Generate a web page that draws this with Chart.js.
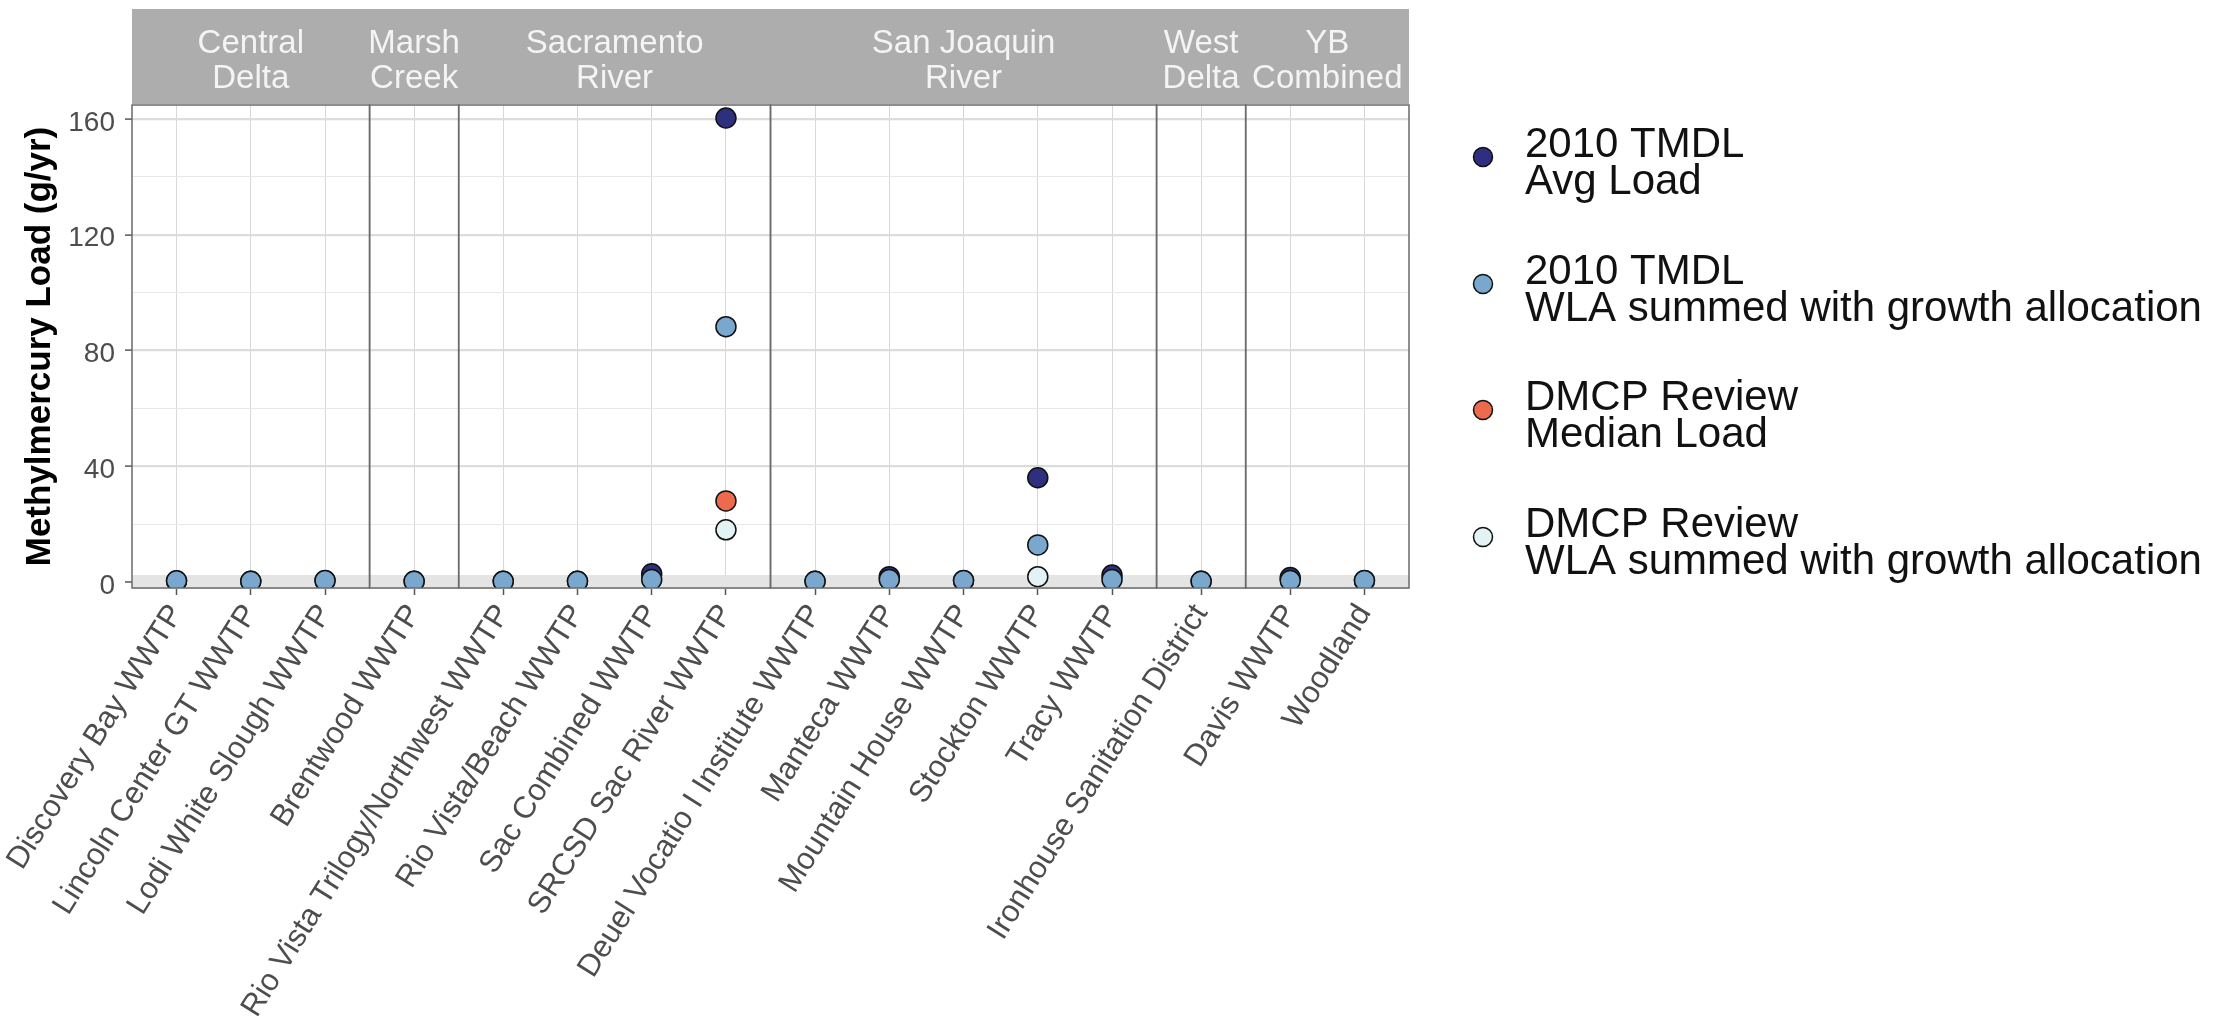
<!DOCTYPE html>
<html lang="en">
<head>
<meta charset="UTF-8" />
<title>Methylmercury Load by Facility</title>
<script src="https://cdn.jsdelivr.net/npm/chart.js"></script>
<style>
  body { margin: 0; background: #ffffff; }
  .wrap { width: 2216px; height: 1022px; position: relative; }
</style>
</head>
<body>
<div class="wrap"><canvas id="loadChart"></canvas></div>
<script>
// facilities, in panel order
const facilities = [
  "Discovery Bay WWTP", "Lincoln Center GT WWTP", "Lodi White Slough WWTP",
  "Brentwood WWTP",
  "Rio Vista Trilogy/Northwest WWTP", "Rio Vista/Beach WWTP", "Sac Combined WWTP", "SRCSD Sac River WWTP",
  "Deuel Vocatio I Institute WWTP", "Manteca WWTP", "Mountain House WWTP", "Stockton WWTP", "Tracy WWTP",
  "Ironhouse Sanitation District",
  "Davis WWTP", "Woodland"
];
const groups = ["Central\nDelta", "Marsh\nCreek", "Sacramento\nRiver", "San Joaquin\nRiver", "West\nDelta", "YB\nCombined"];
const groupSizes = [3, 1, 4, 5, 1, 2];

const yTicks = [0, 20, 40, 60, 80, 100, 120, 140, 160];
const yLabelled = [0, 40, 80, 120, 160];

// loads in g/yr
const avgLoad2010   = [0.3, 0.2, 0.4, 0.2, 0.2, 0.2, 2.8, 160.3, 0.2, 1.8, 0.4, 36.0, 2.4, 0.2, 1.5, 0.4];
const wla2010       = [0.4, 0.2, 0.5, 0.2, 0.2, 0.2, 0.8, 88.2, 0.2, 0.8, 0.5, 12.8, 0.8, 0.2, 0.5, 0.5];
const dmcpMedian    = [null, null, null, null, null, null, null, 28.0, null, null, null, null, null, null, null, null];
const dmcpWla       = [null, null, null, null, null, null, null, 18.0, null, null, null, 1.8, null, null, null, null];

const seriesNames = [
  "2010 TMDL\nAvg Load",
  "2010 TMDL\nWLA summed with growth allocation",
  "DMCP Review\nMedian Load",
  "DMCP Review\nWLA summed with growth allocation"
];
const seriesColors = ["#2e2f7f", "#79a7cd", "#ee6a4c", "#e3f2f4"];

const FONT = "'Liberation Sans', Arial, sans-serif";
Chart.defaults.font.family = FONT;

// discrete positions inside each facet, 0.6 padding either side like ggplot
const GAP = 0.6;
const xPos = [];
const panels = [];
let start = 0;
groupSizes.forEach(n => {
  panels.push({ from: start, to: start + n - 1 + 2 * GAP });
  for (let j = 0; j < n; j++) xPos.push(start + GAP + j);
  start += n - 1 + 2 * GAP;
});
const xMax = start;

const toPoints = arr => arr
  .map((v, i) => v == null ? null : { x: xPos[i], y: v })
  .filter(p => p);

const seriesData = [avgLoad2010, wla2010, dmcpMedian, dmcpWla];
const drawOrder = [4, 1, 3, 2];

const datasets = seriesData.map((arr, k) => ({
  label: seriesNames[k],
  data: toPoints(arr),
  backgroundColor: seriesColors[k],
  borderColor: '#111111',
  borderWidth: 1.5,
  pointRadius: 10,
  pointHoverRadius: 10,
  showLine: false,
  clip: 0,
  order: drawOrder[k]
}));

const facetPlugin = {
  id: 'facets',
  afterDatasetsDraw(chart) {
    const { ctx, chartArea: a, scales: { x } } = chart;
    ctx.save();

    // strip across the top of the panels
    const stripTop = a.top - 96;
    ctx.fillStyle = '#adadad';
    ctx.fillRect(a.left, stripTop, a.right - a.left, 95);
    ctx.fillStyle = '#f4f4f4';
    ctx.font = `33px ${FONT}`;
    ctx.textAlign = 'center';
    ctx.textBaseline = 'alphabetic';
    panels.forEach((p, i) => {
      const cx = (x.getPixelForValue(p.from) + x.getPixelForValue(p.to)) / 2;
      groups[i].split('\n').forEach((line, j) => {
        ctx.fillText(line, cx, stripTop + 44 + j * 35);
      });
    });

    // panel borders
    ctx.strokeStyle = '#6a6a6a';
    ctx.lineWidth = 1.5;
    panels.forEach(p => {
      const l = x.getPixelForValue(p.from);
      const r = x.getPixelForValue(p.to);
      ctx.strokeRect(l, a.top, r - l, a.bottom - a.top);
    });
    ctx.restore();
  },
  afterDraw(chart) {
    const { ctx } = chart;
    ctx.save();
    const dotX = 1483, textX = 1525;
    const rows = [157, 284, 410, 537];
    ctx.font = `42px ${FONT}`;
    ctx.textAlign = 'left';
    ctx.textBaseline = 'alphabetic';
    seriesNames.forEach((name, i) => {
      const cy = rows[i];
      ctx.beginPath();
      ctx.arc(dotX, cy, 9.5, 0, Math.PI * 2);
      ctx.fillStyle = seriesColors[i];
      ctx.fill();
      ctx.lineWidth = 1.5;
      ctx.strokeStyle = '#111111';
      ctx.stroke();
      ctx.fillStyle = '#111111';
      name.split('\n').forEach((line, j) => {
        ctx.fillText(line, textX, cy + j * 37);
      });
    });
    ctx.restore();
  }
};

new Chart(document.getElementById('loadChart'), {
  type: 'scatter',
  data: { datasets },
  plugins: [facetPlugin],
  options: {
    responsive: true,
    maintainAspectRatio: false,
    animation: false,
    layout: { padding: { top: 105, right: 807, left: 0, bottom: 0 } },
    plugins: {
      legend: { display: false },
      tooltip: { enabled: false }
    },
    scales: {
      x: {
        type: 'linear',
        min: 0,
        max: xMax,
        afterBuildTicks: scale => { scale.ticks = xPos.map(v => ({ value: v })); },
        afterFit: scale => { scale.height = 434; },
        border: { display: false },
        grid: {
          color: '#d8d8d8',
          lineWidth: 1,
          tickLength: 7,
          tickColor: '#555555',
          tickWidth: 1.5
        },
        ticks: {
          autoSkip: false,
          minRotation: 58,
          maxRotation: 58,
          padding: 3,
          color: '#4d4d4d',
          font: { size: 31 },
          callback: (v, i) => facilities[i]
        }
      },
      y: {
        min: -2.1,
        max: 164.8,
        afterBuildTicks: scale => { scale.ticks = yTicks.map(v => ({ value: v })); },
        afterFit: scale => { scale.width = 132; },
        border: { display: false },
        grid: {
          color: c => c.tick.value === 0 ? '#e4e4e4' : (yLabelled.includes(c.tick.value) ? '#dcdcdc' : '#e8e8e8'),
          lineWidth: c => c.tick.value === 0 ? 14 : (yLabelled.includes(c.tick.value) ? 2.2 : 1),
          tickLength: 7,
          tickWidth: 1.5,
          tickColor: c => yLabelled.includes(c.tick.value) ? '#555555' : 'rgba(0,0,0,0)'
        },
        ticks: {
          padding: 10,
          labelOffset: 4,
          color: '#4d4d4d',
          font: { size: 28 },
          callback: v => yLabelled.includes(v) ? String(v) : ''
        },
        title: {
          display: true,
          text: 'Methylmercury Load (g/yr)',
          color: '#000000',
          font: { size: 35, weight: 'bold' },
          padding: { top: 19, bottom: 0 }
        }
      }
    }
  }
});
</script>
</body>
</html>
